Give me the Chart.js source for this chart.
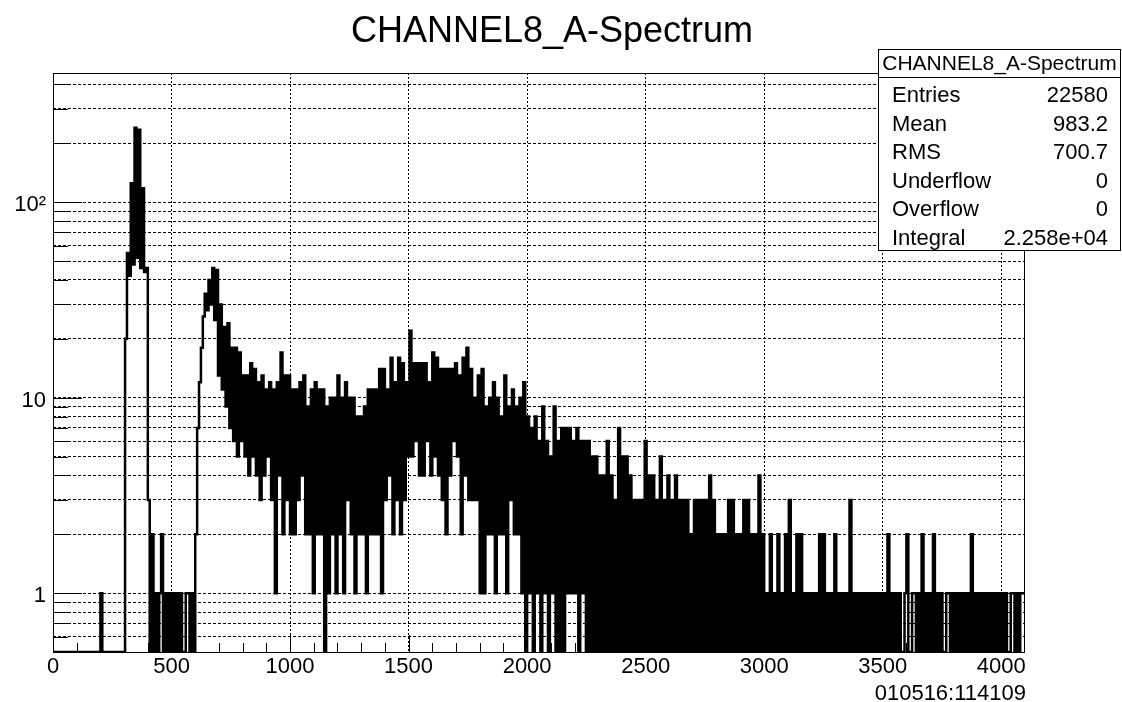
<!DOCTYPE html>
<html>
<head>
<meta charset="utf-8">
<title>CHANNEL8_A-Spectrum</title>
<script src="https://cdn.jsdelivr.net/npm/chart.js@4.4.1/dist/chart.umd.min.js"></script>
<style>
  html, body { margin: 0; background: #fff; }
  .chart-box { position: relative; width: 1122px; height: 702px; }
</style>
</head>
<body>
<div class="chart-box"><canvas id="spectrum"></canvas></div>
<script>
const titleText = 'CHANNEL8_A-Spectrum'
const stampText = '010516:114109'

// 8-channel bins, counts (0 = empty bin)
const binWidth = 8
const xMax = 4096
const yMin = 0.5
const yMax = 458
const counts = [
  0, 0, 0, 0, 0, 0, 0, 0, 0, 0, 0, 0, 0, 0, 0, 0,
  0, 0, 0, 0, 0, 0, 0, 0, 0, 1, 0, 0, 0, 0, 0, 0,
  0, 0, 0, 0, 0, 0, 20, 55, 42, 125, 48, 240, 52, 235, 46, 118,
  44, 46, 3, 0, 2, 0, 1, 0, 1, 2, 0, 1, 0, 1, 0, 1,
  0, 1, 0, 1, 0, 0, 1, 1, 0, 1, 0, 2, 7, 12, 18, 26,
  34, 28, 40, 30, 46, 25, 45, 13, 30, 11, 23, 9, 24, 7, 18, 6,
  18, 5, 17, 6, 13, 5, 13, 4, 15, 5, 14, 4, 12, 3, 13, 4,
  11, 5, 12, 3, 11, 1, 12, 4, 17, 2, 13, 3, 13, 2, 11, 2,
  11, 3, 12, 4, 13, 2, 9, 2, 11, 1, 12, 2, 11, 2, 11, 0,
  9, 1, 10, 2, 10, 1, 13, 2, 10, 1, 12, 3, 10, 2, 10, 1,
  8, 2, 8, 2, 9, 1, 11, 2, 11, 2, 11, 2, 14, 1, 14, 3,
  11, 4, 16, 2, 12, 3, 16, 2, 15, 3, 12, 5, 22, 5, 15, 6,
  15, 4, 15, 4, 15, 6, 12, 4, 17, 5, 16, 4, 14, 3, 14, 2,
  14, 4, 14, 6, 15, 5, 13, 2, 16, 4, 18, 3, 14, 3, 10, 3,
  13, 1, 14, 1, 9, 2, 10, 2, 12, 1, 10, 2, 8, 2, 13, 1,
  9, 3, 11, 2, 9, 2, 10, 1, 12, 0, 8, 1, 7, 0, 8, 1,
  6, 0, 9, 1, 6, 0, 5, 1, 9, 0, 6, 0, 7, 0, 7, 1,
  7, 1, 6, 1, 7, 0, 6, 1, 6, 0, 6, 0, 5, 0, 5, 0,
  4, 0, 4, 0, 6, 0, 4, 0, 3, 0, 7, 0, 5, 0, 5, 0,
  4, 0, 3, 0, 3, 0, 3, 0, 6, 0, 4, 0, 4, 0, 3, 0,
  5, 0, 3, 0, 4, 0, 3, 0, 4, 0, 3, 0, 3, 0, 3, 0,
  2, 0, 3, 0, 3, 0, 3, 0, 3, 0, 4, 0, 3, 0, 2, 0,
  2, 0, 2, 0, 3, 0, 3, 0, 2, 0, 2, 0, 3, 0, 3, 0,
  2, 0, 2, 0, 4, 0, 2, 0, 1, 0, 2, 0, 1, 0, 2, 0,
  1, 0, 2, 0, 3, 0, 1, 0, 2, 0, 2, 0, 1, 0, 1, 0,
  1, 0, 1, 0, 2, 0, 2, 0, 1, 0, 1, 0, 2, 0, 1, 0,
  1, 0, 1, 0, 3, 0, 1, 0, 1, 0, 1, 0, 1, 0, 1, 0,
  1, 0, 1, 0, 1, 0, 1, 0, 2, 0, 1, 0, 1, 0, 1, 0,
  0, 1, 2, 0, 0, 1, 1, 0, 1, 0, 2, 0, 1, 0, 1, 0,
  2, 0, 1, 0, 1, 0, 0, 1, 1, 0, 1, 0, 1, 0, 1, 0,
  1, 0, 1, 0, 2, 0, 1, 0, 1, 0, 1, 0, 1, 0, 1, 0,
  1, 0, 1, 0, 1, 0, 1, 0, 0, 1, 1, 0, 1, 0, 1, 1,
]

const xTickValues = [0, 500, 1000, 1500, 2000, 2500, 3000, 3500, 4000]
const yGridValues = [0.6, 0.7, 0.8, 0.9, 1, 2, 3, 4, 5, 6, 7, 8, 9, 10, 20, 30, 40, 50, 60, 70, 80, 90, 100, 200, 300, 400]
const yLabels = { 1: '1', 10: '10', 100: '10²' }

const statLabels = ['Entries', 'Mean', 'RMS', 'Underflow', 'Overflow', 'Integral']
const statValues = ['22580', '983.2', '700.7', '0', '0', '2.258e+04']

const font = "'Liberation Sans', Arial, Helvetica, sans-serif"
Chart.defaults.font.family = font
Chart.defaults.color = '#000'

// empty bins sit on the frame bottom, like ROOT draws them on a log axis
const points = counts.map((c, i) => ({ x: i * binWidth, y: c > 0 ? c : yMin }))
points.push({ x: xMax, y: points[points.length - 1].y })

const rootFrame = {
  id: 'rootFrame',
  afterDraw (chart) {
    const { ctx, chartArea: area, scales: { x, y } } = chart
    ctx.save()
    ctx.strokeStyle = '#000'
    ctx.lineWidth = 1
    ctx.strokeRect(Math.round(area.left) + 0.5, Math.round(area.top) + 0.5,
      Math.round(area.right - area.left), Math.round(area.bottom - area.top))

    ctx.beginPath()
    yGridValues.forEach(v => {
      const py = Math.round(y.getPixelForValue(v)) + 0.5
      const len = yLabels[v] ? 29 : 15
      ctx.moveTo(area.left, py)
      ctx.lineTo(area.left + len, py)
    })
    for (let v = 0; v <= xMax; v += 100) {
      const px = Math.round(x.getPixelForValue(v)) + 0.5
      const len = v % 500 === 0 ? 17 : 9
      ctx.moveTo(px, area.bottom)
      ctx.lineTo(px, area.bottom - len)
    }
    ctx.stroke()

    ctx.fillStyle = '#000'
    ctx.font = `36px ${font}`
    ctx.textAlign = 'center'
    ctx.textBaseline = 'alphabetic'
    ctx.fillText(titleText, 552, 42)

    // stats box
    const bw = 243
    const bh = 201
    const bx = chart.width - bw - 1
    const by = area.top - 24
    ctx.fillStyle = '#fff'
    ctx.fillRect(bx, by, bw, bh)
    ctx.strokeRect(bx + 0.5, by + 0.5, bw - 1, bh)
    ctx.beginPath()
    ctx.moveTo(bx, by + 28.5)
    ctx.lineTo(bx + bw, by + 28.5)
    ctx.stroke()

    ctx.fillStyle = '#000'
    ctx.font = `21px ${font}`
    ctx.fillText(titleText, bx + bw / 2, by + 21)
    ctx.font = `22px ${font}`
    statLabels.forEach((label, i) => {
      const base = by + 53 + i * 28.5
      ctx.textAlign = 'left'
      ctx.fillText(label, bx + 14, base)
      ctx.textAlign = 'right'
      ctx.fillText(statValues[i], bx + 230, base)
    })

    ctx.textAlign = 'right'
    ctx.fillText(stampText, area.right + 2, chart.height - 2)
    ctx.restore()
  },
}

const ctx = document.getElementById('spectrum').getContext('2d')

/* eslint-disable no-new */
new Chart(ctx, {
  type: 'line',
  data: {
    datasets: [{
      label: titleText,
      data: points,
      stepped: true,
      borderColor: '#000',
      borderWidth: 2.5,
      borderJoinStyle: 'miter',
      pointRadius: 0,
      fill: false,
    }],
  },
  options: {
    responsive: true,
    maintainAspectRatio: false,
    devicePixelRatio: 1,
    animation: false,
    events: [],
    layout: { padding: { top: 73, right: 98, bottom: 0, left: 0 } },
    plugins: {
      legend: { display: false },
      tooltip: { enabled: false },
    },
    scales: {
      x: {
        type: 'linear',
        min: 0,
        max: xMax,
        afterFit: s => { s.height = 50; s.paddingLeft = 0; s.paddingRight = 0 },
        afterBuildTicks: s => { s.ticks = xTickValues.map(v => ({ value: v })) },
        ticks: {
          autoSkip: false,
          maxRotation: 0,
          padding: 2,
          font: { size: 22 },
          callback: v => String(v),
        },
        grid: { color: '#000', lineWidth: 1, drawTicks: false },
        border: { display: false, dash: [2, 2] },
      },
      y: {
        type: 'logarithmic',
        min: yMin,
        max: yMax,
        afterFit: s => { s.width = 53; s.paddingTop = 0; s.paddingBottom = 0 },
        afterBuildTicks: s => { s.ticks = yGridValues.map(v => ({ value: v })) },
        ticks: {
          autoSkip: false,
          padding: 7,
          labelOffset: 3,
          font: { size: 22 },
          callback: v => yLabels[v] || '',
        },
        grid: { color: '#000', lineWidth: 1, drawTicks: false },
        border: { display: false, dash: [3, 2] },
      },
    },
  },
  plugins: [rootFrame],
})
</script>
</body>
</html>
